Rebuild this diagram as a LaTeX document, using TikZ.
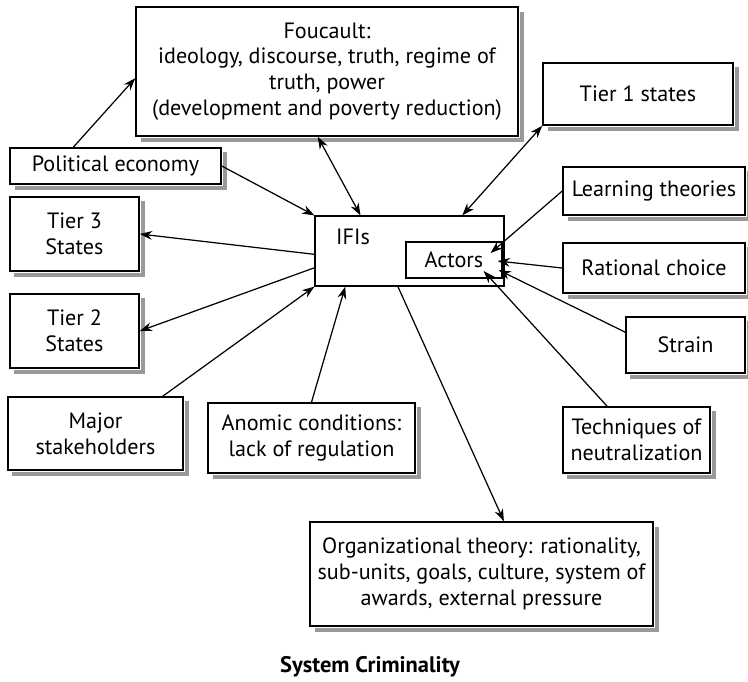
\documentclass[tikz,border=0pt]{standalone}
\usepackage{fontspec}
\setmainfont{PT Sans}
\usepackage{tikz}
\usetikzlibrary{arrows.meta,calc}

\begin{document}
\begin{tikzpicture}[x=0.02cm,y=-0.02cm,
  font=\fontsize{12.6}{14.7}\selectfont,
  >={Stealth[length=7pt,width=5pt]},
  boxsize/.style 2 args={minimum width=#1cm,minimum height=#2cm},
  box/.style={draw,line width=0.9pt,fill=white,align=center,inner sep=2pt},
  flatbox/.style={draw,line width=0.7pt,fill=white,inner sep=0pt},
  shadowline/.style={draw=black!40,line width=2.4pt,line join=miter},
  link/.style={line width=0.7pt}]
\useasboundingbox (0,0) rectangle (748,681);
\node[box,boxsize={7.64}{2.58}] (foucault) at (327,71.5)
  {Foucault:\\ideology, discourse, truth, regime of\\truth, power\\(development and poverty reduction)};
\node[box,boxsize={4.22}{0.72}] (polecon) at (115.5,166) {Political economy};
\node[box,boxsize={3.8}{1.24}] (tierone) at (638,94) {Tier 1 states};
\node[box,boxsize={3.64}{0.96}] (learning) at (654,191) {Learning theories};
\node[box,boxsize={2.58}{1.48}] (tierthree) at (74.5,234) {Tier 3\\States};
\node[box,boxsize={2.58}{1.48}] (tiertwo) at (74.5,331) {Tier 2\\States};
\node[box,boxsize={3.64}{1.0}] (rational) at (654,268) {Rational choice};
\node[box,boxsize={2.38}{1.12}] (strain) at (685.5,345) {Strain};
\node[box,boxsize={2.94}{1.32}] (techniques) at (636.5,440) {Techniques of\\neutralization};
\node[box,boxsize={3.5}{1.46}] (major) at (95.5,433.5) {Major\\stakeholders};
\node[box,boxsize={4.14}{1.4}] (anomic) at (311.5,438) {Anomic conditions:\\lack of regulation};
\node[box,boxsize={6.86}{2.08}] (orgtheory) at (481.5,574)
  {Organizational theory: rationality,\\sub-units, goals, culture, system of\\awards, external pressure};
\node[flatbox,boxsize={3.78}{1.4}] (ifis) at (409.5,251) {};
\node (ifislabel) at (353,237) {IFIs};
\node[flatbox,boxsize={1.92}{0.72}] (actors) at (454,260) {Actors};
\node[font=\fontsize{12.8}{14}\selectfont\bfseries] (title) at (370,667) {System Criminality};

% shadows on the right and lower sides
\foreach \boxname in {foucault,polecon,tierone,learning,tierthree,tiertwo,rational,strain,techniques,major,anomic,orgtheory}
  \draw[shadowline] ([shift={(1.65pt,-3pt)}]\boxname.north east)
    -- ([shift={(1.65pt,-1.65pt)}]\boxname.south east)
    -- ([shift={(3pt,-1.65pt)}]\boxname.south west);

\draw[link,->] (polecon.156) -- (foucault.182);
\draw[link,->] (polecon.east) -- (ifis.north west);
\draw[link,<->] (foucault.262) -- (ifis.144);
\draw[link,<->] (tierone.south west) -- (ifis.34);
\draw[link,->] (ifis.182) -- (tierthree.east);
\draw[link,->] (ifis.190) -- (tiertwo.east);
\draw[link,->] (major.29) -- (ifis.south west);
\draw[link,->] (anomic.north) -- (ifis.209);
\draw[link,->] (ifis.252) -- (orgtheory.67);
\draw[link,->] (learning.west) -- ($(actors.east)+(-12,-7)$);
\draw[link,->] (rational.west) -- ($(actors.east)+(-5,1)$);
\draw[link,->] (strain.168) -- ($(actors.east)+(-4,10)$);
\draw[link,->] (techniques.131) -- ($(actors.east)+(-19,11)$);
\end{tikzpicture}
\end{document}
